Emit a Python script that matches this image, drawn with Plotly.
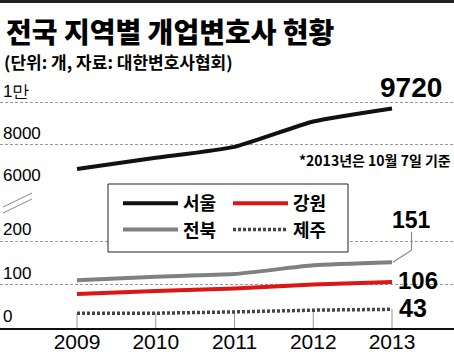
import plotly.graph_objects as go

W, H = 454, 352

years = [2009, 2010, 2011, 2012, 2013]
seoul = [6850, 7380, 7900, 9100, 9720]
jeonbuk = [110, 118, 124, 144, 151]
gangwon = [78, 85, 91, 100, 106]
jeju = [34, 34, 37, 41, 43]

names = ["서울", "강원", "전북", "제주"]
x_ticks = ["2009", "2010", "2011", "2012", "2013"]
top_tickvals = [6000, 8000, 10000]
top_ticktext = ["6000", "8000", "1만"]
bot_tickvals = [0, 100, 200]
bot_ticktext = ["0", "100", "200"]

KR = "Noto Sans CJK KR"
NUM = "Liberation Sans Narrow, Arial Narrow, Liberation Sans"

def py(px):
    return (H - px) / H

def px_x(px):
    return px / W

fig = go.Figure()

fig.add_trace(go.Scatter(x=years, y=seoul, name=names[0], xaxis="x", yaxis="y2",
                         mode="lines", line=dict(color="#111111", width=4, shape="spline", smoothing=0.5),
                         legend="legend", cliponaxis=False))
fig.add_trace(go.Scatter(x=years, y=jeonbuk, name=names[2], xaxis="x", yaxis="y",
                         mode="lines", line=dict(color="#808080", width=4, shape="spline", smoothing=0.5),
                         legend="legend"))
fig.add_trace(go.Scatter(x=years, y=gangwon, name=names[1], xaxis="x", yaxis="y",
                         mode="lines", line=dict(color="#dd1515", width=4, shape="spline", smoothing=0.5),
                         legend="legend2"))
fig.add_trace(go.Scatter(x=years, y=jeju, name=names[3], xaxis="x", yaxis="y",
                         mode="lines", line=dict(color="#444444", width=3.5, dash="3px,2px"),
                         legend="legend2"))

shapes = []
for xv, yv in zip(years, jeju):
    shapes.append(dict(type="line", xref="x", yref="y", x0=xv, x1=xv, y0=0, y1=yv,
                       line=dict(color="#999999", width=1), layer="below"))
xl, yl = years[-1], jeonbuk[-1]
shapes.append(dict(type="path", xref="x", yref="y",
                   path=f"M {xl + 0.248},{yl + 70} L {xl + 0.248},{yl + 28} L {xl + 0.01},{yl}",
                   line=dict(color="#8a8a8a", width=1.2)))
shapes.append(dict(type="rect", xref="paper", yref="paper",
                   x0=px_x(108), x1=px_x(348), y0=py(252), y1=py(184),
                   fillcolor="white", line=dict(color="#222222", width=1), layer="above"))
shapes.append(dict(type="line", xref="paper", yref="paper", x0=px_x(3), y0=py(207), x1=px_x(32), y1=py(193),
                   line=dict(color="#888888", width=1)))
shapes.append(dict(type="line", xref="paper", yref="paper", x0=px_x(3), y0=py(213), x1=px_x(32), y1=py(199),
                   line=dict(color="#888888", width=1)))
shapes.append(dict(type="rect", xref="paper", yref="paper", x0=0, x1=1, y0=py(3), y1=1,
                   fillcolor="#222222", line=dict(width=0)))

annotations = [
    dict(text="전국 지역별 개업변호사 현황", xref="paper", yref="paper", x=px_x(4), y=py(31),
         xanchor="left", yanchor="middle", showarrow=False,
         font=dict(family=KR, size=28, color="black", weight=900)),
    dict(text="(단위: 개, 자료: 대한변호사협회)", xref="paper", yref="paper", x=px_x(2), y=py(61),
         xanchor="left", yanchor="middle", showarrow=False,
         font=dict(family=KR, size=17, color="black", weight=700)),
    dict(text="*2013년은 10월 7일 기준", xref="paper", yref="paper", x=px_x(453), y=py(160),
         xanchor="right", yanchor="middle", showarrow=False,
         font=dict(family=KR, size=14, color="black", weight=700)),
    dict(text=f"{seoul[-1]}", xref="x", yref="y2", x=years[-1], y=seoul[-1], xshift=19, yshift=3,
         xanchor="center", yanchor="bottom", showarrow=False,
         font=dict(family=NUM, size=28, color="black", weight=700)),
    dict(text=f"{jeonbuk[-1]}", xref="x", yref="y", x=years[-1], y=jeonbuk[-1], xshift=19, yshift=27,
         xanchor="center", yanchor="bottom", showarrow=False,
         font=dict(family=NUM, size=23, color="black", weight=700)),
    dict(text=f"{gangwon[-1]}", xref="x", yref="y", x=years[-1], y=gangwon[-1], xshift=4, yshift=1,
         xanchor="left", yanchor="middle", showarrow=False,
         font=dict(family=NUM, size=24, color="black", weight=700)),
    dict(text=f"{jeju[-1]}", xref="x", yref="y", x=years[-1], y=jeju[-1], xshift=5, yshift=1,
         xanchor="left", yanchor="middle", showarrow=False,
         font=dict(family=NUM, size=25, color="black", weight=700)),
]

x0_px, x1_px = 77, 392
per = (x1_px - x0_px) / (years[-1] - years[0])
xrange = [years[0] - x0_px / per, years[-1] + (W - x1_px) / per]

bot_scale = 0.435
top_scale = 42.25 / 2000

fig.update_layout(
    width=W, height=H,
    margin=dict(l=0, r=0, t=0, b=0, autoexpand=False),
    paper_bgcolor="white", plot_bgcolor="white",
    shapes=shapes, annotations=annotations,
    xaxis=dict(range=xrange, domain=[0, 1], anchor="y", tickvals=years, ticktext=x_ticks,
               showgrid=False, zeroline=False, showline=True, linecolor="#111111", linewidth=1.5,
               ticks="", ticklabelstandoff=-6, automargin=False,
               tickfont=dict(family=NUM, size=21, color="black")),
    yaxis=dict(range=[0, 260], domain=[py(328), py(328 - 260 * bot_scale)], anchor="x",
               tickvals=bot_tickvals, ticktext=bot_ticktext, ticklabelposition="inside top",
               showgrid=True, gridcolor="#999999", griddash="3px,2px", gridwidth=1,
               zeroline=False, showline=False, ticks="", automargin=False,
               tickfont=dict(family=NUM, size=17, color="black")),
    yaxis2=dict(range=[6000, 11500], domain=[py(187), py(187 - 5500 * top_scale)], anchor="x",
                tickvals=top_tickvals, ticktext=top_ticktext, ticklabelposition="inside top",
                showgrid=True, gridcolor="#999999", griddash="3px,2px", gridwidth=1,
                zeroline=False, showline=False, ticks="", automargin=False,
                tickfont=dict(family=NUM, size=17, color="black")),
    legend=dict(x=px_x(118), y=py(185), xanchor="left", yanchor="top", orientation="v",
                bgcolor="rgba(0,0,0,0)", borderwidth=0, itemwidth=55, tracegroupgap=2,
                font=dict(family=KR, size=18, color="black", weight=700)),
    legend2=dict(x=px_x(228), y=py(185), xanchor="left", yanchor="top", orientation="v",
                 bgcolor="rgba(0,0,0,0)", borderwidth=0, itemwidth=55, tracegroupgap=2,
                 font=dict(family=KR, size=18, color="black", weight=700)),
    showlegend=True,
)

fig.write_html("out.html")
